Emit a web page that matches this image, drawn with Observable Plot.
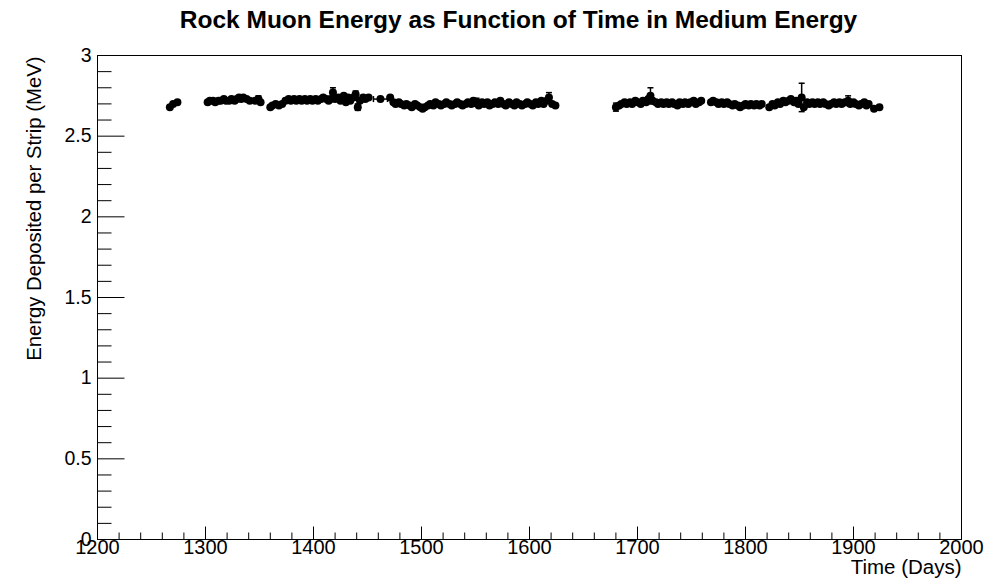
<!DOCTYPE html>
<html><head><meta charset="utf-8">
<script src="https://cdn.jsdelivr.net/npm/d3@7"></script>
<script src="https://cdn.jsdelivr.net/npm/@observablehq/plot@0.6"></script>
<style>body{margin:0;background:#fff;overflow:hidden;}</style>
</head><body><div id="chart"></div>
<script>
// [day, energy deposited per strip (MeV)]
const measurements = [
  [1267,2.68],[1270,2.70],[1274,2.71],
  [1302,2.71],[1304,2.72],[1307,2.72],[1309,2.71],[1312,2.72],[1314,2.72],[1317,2.73],[1319,2.72],[1322,2.72],[1324,2.73],[1327,2.72],[1329,2.73],[1331,2.74],[1333,2.73],[1335,2.74],[1338,2.73],[1341,2.72],[1346,2.72],[1349,2.73],[1351,2.71],
  [1360,2.68],[1362,2.69],[1365,2.70],[1368,2.69],[1371,2.70],[1374,2.72],[1377,2.73],[1379,2.72],[1382,2.73],[1384,2.72],[1387,2.73],[1389,2.72],[1392,2.73],[1394,2.72],[1397,2.73],[1399,2.72],[1402,2.73],[1404,2.72],[1407,2.73],[1409,2.74],[1412,2.73],[1414,2.72],[1416,2.73],[1418,2.77],[1420,2.73],[1423,2.74],[1425,2.72],[1428,2.75],[1430,2.71],[1432,2.74],[1434,2.72],[1437,2.74],[1439,2.76],[1441,2.68],[1443,2.72],[1446,2.74],[1448,2.73],[1451,2.74],
  [1462,2.73],
  [1471,2.74],[1474,2.71],[1476,2.70],[1479,2.71],[1481,2.70],[1484,2.69],[1486,2.70],[1489,2.69],[1491,2.68],[1494,2.70],[1496,2.69],[1499,2.68],[1501,2.67],[1503,2.68],[1506,2.69],[1508,2.70],[1511,2.69],[1513,2.71],[1516,2.70],[1518,2.69],[1521,2.70],[1523,2.71],[1526,2.70],[1528,2.69],[1531,2.70],[1533,2.71],[1536,2.70],[1538,2.69],[1541,2.70],[1543,2.71],[1546,2.70],[1548,2.72],[1551,2.71],[1553,2.69],[1556,2.71],[1558,2.70],[1561,2.71],[1563,2.69],[1566,2.70],[1568,2.71],[1571,2.70],[1573,2.72],[1576,2.70],[1578,2.69],[1581,2.71],[1583,2.70],[1586,2.69],[1588,2.71],[1591,2.70],[1593,2.69],[1596,2.70],[1598,2.71],[1601,2.70],[1603,2.69],[1606,2.71],[1608,2.70],[1611,2.72],[1613,2.70],[1616,2.72],[1618,2.74],[1621,2.70],[1624,2.69],
  [1680,2.68],[1683,2.69],[1685,2.70],[1688,2.71],[1690,2.70],[1693,2.71],[1695,2.70],[1698,2.72],[1700,2.71],[1703,2.70],[1705,2.72],[1708,2.71],[1710,2.73],[1712,2.75],[1714,2.72],[1717,2.71],[1719,2.70],[1722,2.71],[1724,2.70],[1727,2.71],[1729,2.70],[1732,2.71],[1734,2.70],[1737,2.69],[1739,2.71],[1742,2.70],[1744,2.71],[1747,2.70],[1749,2.71],[1752,2.72],[1754,2.70],[1757,2.71],[1759,2.72],
  [1768,2.71],[1770,2.72],[1773,2.71],[1775,2.70],[1778,2.71],[1780,2.70],[1783,2.71],[1785,2.70],[1788,2.69],[1790,2.70],[1793,2.69],[1795,2.68],[1798,2.69],[1800,2.70],[1803,2.69],[1805,2.70],[1808,2.69],[1810,2.70],[1813,2.69],[1815,2.70],
  [1822,2.68],[1825,2.70],[1827,2.69],[1830,2.71],[1832,2.70],[1835,2.72],[1837,2.71],[1840,2.72],[1842,2.73],[1845,2.71],[1847,2.72],[1849,2.70],[1852,2.74],[1854,2.68],[1857,2.71],[1859,2.70],[1862,2.71],[1864,2.70],[1867,2.71],[1869,2.70],[1872,2.71],[1874,2.70],[1877,2.69],[1879,2.70],[1882,2.71],[1884,2.70],[1887,2.71],[1889,2.70],[1892,2.71],[1895,2.72],[1897,2.70],[1900,2.71],[1902,2.70],[1905,2.69],[1907,2.70],[1910,2.71],[1912,2.69],[1914,2.70],
  [1919,2.67],[1924,2.68]
];
// visible vertical error bars: [day, error (MeV)]
const energyErrors = [[1349,0.02],[1418,0.03],[1439,0.02],[1441,0.02],[1551,0.025],[1618,0.03],[1680,0.025],[1712,0.05],[1852,0.088],[1895,0.03]];
// visible horizontal error bars: [day, error (days)]
const timeErrors = [[1462,6.5]];

const xMajorTicks = [1200,1300,1400,1500,1600,1700,1800,1900,2000];
const yMajorTicks = [0,0.5,1,1.5,2,2.5,3];
const xMinorTicks = d3.range(1200, 2001, 20).filter(d => d % 100 !== 0);
const yMinorTicks = d3.range(0, 31, 1).map(d => d / 10).filter(d => Math.round(d * 10) % 5 !== 0);

const title = "Rock Muon Energy as Function of Time in Medium Energy";
const xTitle = "Time (Days)";
const yTitle = "Energy Deposited per Strip (MeV)";

const energyByDay = new Map(measurements.map(d => [d[0], d[1]]));
const vErr = energyErrors.map(([day, e]) => ({day, v: energyByDay.get(day), e}));
const hErr = timeErrors.map(([day, e]) => ({day, v: energyByDay.get(day), e}));

const tickUp = len => ({draw(ctx) { ctx.moveTo(0, 0); ctx.lineTo(0, -len); }});
const tickRight = len => ({draw(ctx) { ctx.moveTo(0, 0); ctx.lineTo(len, 0); }});
const capH = {draw(ctx) { ctx.moveTo(-3, 0); ctx.lineTo(3, 0); }};
const capV = {draw(ctx) { ctx.moveTo(0, -3); ctx.lineTo(0, 3); }};

const FONT = "'Liberation Sans', Arial, Helvetica, sans-serif";

const chart = Plot.plot({
  width: 996,
  height: 587,
  marginLeft: 97,
  marginRight: 35,
  marginTop: 55,
  marginBottom: 48,
  style: {fontFamily: FONT, background: "#fff", color: "black", overflow: "visible"},
  x: {domain: [1200, 2000], axis: null},
  y: {domain: [0, 3], axis: null},
  marks: [
    Plot.frame({stroke: "black", strokeWidth: 1}),
    // ticks (inward)
    Plot.dot(xMajorTicks, {x: d => d, frameAnchor: "bottom", symbol: tickUp(13), fill: "none", stroke: "black", strokeWidth: 1}),
    Plot.dot(xMinorTicks, {x: d => d, frameAnchor: "bottom", symbol: tickUp(7), fill: "none", stroke: "black", strokeWidth: 1}),
    Plot.dot(yMajorTicks, {y: d => d, frameAnchor: "left", symbol: tickRight(27), fill: "none", stroke: "black", strokeWidth: 1}),
    Plot.dot(yMinorTicks, {y: d => d, frameAnchor: "left", symbol: tickRight(14), fill: "none", stroke: "black", strokeWidth: 1}),
    // tick labels
    Plot.text(xMajorTicks, {x: d => d, frameAnchor: "bottom", dy: 14, text: d => String(d), fontSize: 20, fill: "black", textAnchor: "middle"}),
    Plot.text(yMajorTicks, {y: d => d, frameAnchor: "left", dx: -6, text: d => String(d), fontSize: 19.5, fill: "black", textAnchor: "end"}),
    // axis titles
    Plot.text([xTitle], {frameAnchor: "bottom-right", dy: 34, text: d => d, fontSize: 20.5, fill: "black", textAnchor: "end"}),
    Plot.text([yTitle], {frameAnchor: "top-left", dx: -71, dy: 1, rotate: -90, text: d => d, fontSize: 20.3, fill: "black", textAnchor: "end"}),
    Plot.text([title], {frameAnchor: "top", dx: -11, dy: -45, text: d => d, fontSize: 24.5, fontWeight: "bold", fill: "black"}),
    // error bars
    Plot.ruleX(vErr, {x: "day", y1: d => d.v - d.e, y2: d => d.v + d.e, stroke: "black", strokeWidth: 1.5}),
    Plot.dot(vErr, {x: "day", y: d => d.v + d.e, symbol: capH, fill: "none", stroke: "black", strokeWidth: 1.5}),
    Plot.dot(vErr, {x: "day", y: d => d.v - d.e, symbol: capH, fill: "none", stroke: "black", strokeWidth: 1.5}),
    Plot.ruleY(hErr, {y: "v", x1: d => d.day - d.e, x2: d => d.day + d.e, stroke: "black", strokeWidth: 1.5}),
    Plot.dot(hErr, {x: d => d.day - d.e, y: "v", symbol: capV, fill: "none", stroke: "black", strokeWidth: 1.5}),
    Plot.dot(hErr, {x: d => d.day + d.e, y: "v", symbol: capV, fill: "none", stroke: "black", strokeWidth: 1.5}),
    // measurements
    Plot.dot(measurements, {x: d => d[0], y: d => d[1], r: 4, fill: "black", stroke: "none"})
  ]
});
document.getElementById("chart").appendChild(chart);
</script>
</body></html>
